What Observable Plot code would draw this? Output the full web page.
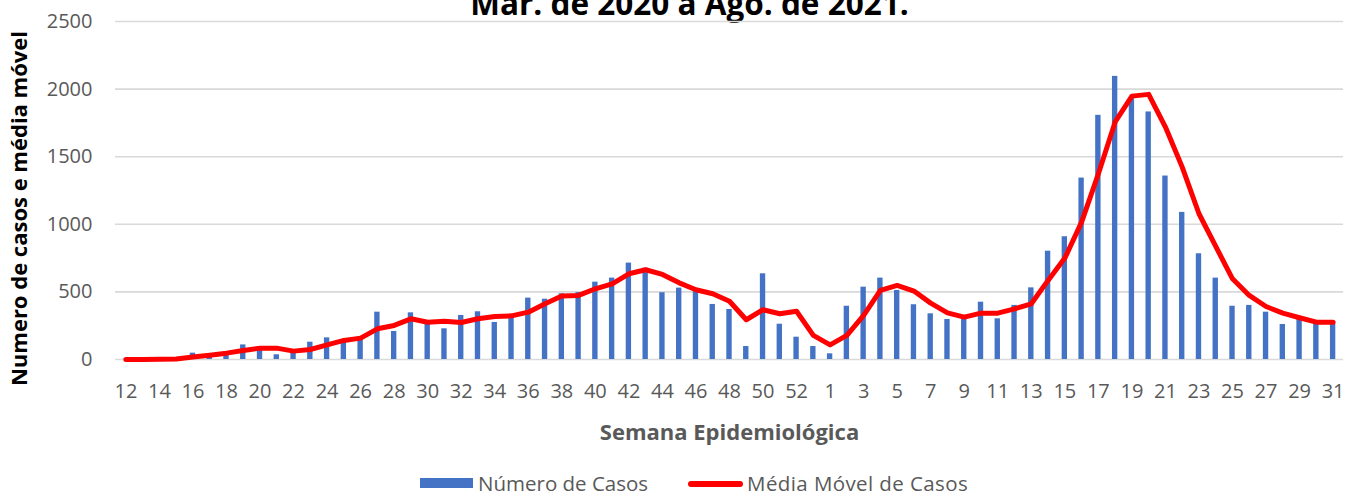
<!DOCTYPE html>
<html>
<head>
<meta charset="utf-8">
<script src="https://cdn.jsdelivr.net/npm/d3@7"></script>
<script src="https://cdn.jsdelivr.net/npm/@observablehq/plot@0.6"></script>
<style>
  html, body { margin: 0; padding: 0; background: #fff; }
  body { width: 1347px; height: 494px; overflow: hidden; position: relative; font-family: "Open Sans", sans-serif; }
  #title { position: absolute; top: -13px; left: 16px; width: 1347px; text-align: center; font-weight: bold; font-size: 31.5px; line-height: 32px; color: #000; white-space: nowrap; }
  #chart { position: absolute; top: 0; left: 0; }
  #chart svg { font-family: "Open Sans", sans-serif; overflow: visible; }
  g[aria-label="x-axis label"] text { font-weight: bold; font-size: 22px; fill: #595959; }
  #legend { position: absolute; top: 473px; left: 420px; height: 21px; line-height: 21px; display: flex; align-items: center; font-size: 20.5px; color: #595959; white-space: nowrap; }
  .sw-bar { width: 53px; height: 10px; background: #4472C4; margin-right: 5px; margin-top: -1px; }
  .sw-line { width: 55px; height: 6px; background: #ff0000; border-radius: 3px; margin-left: 40px; margin-right: 4px; }
  .lg2 { letter-spacing: 0.4px; }
</style>
</head>
<body>
<div id="title">Mar. de 2020 a Ago. de 2021.</div>
<div id="chart"></div>
<div id="legend"><div class="sw-bar"></div><span>Número de Casos</span><div class="sw-line"></div><span class="lg2">Média Móvel de Casos</span></div>
<script>
// Epidemiological weeks: 12–53 of 2020, then 1–31 of 2021
const weekLabels = [
  "12","13","14","15","16","17","18","19","20","21","22","23","24","25","26","27","28","29","30","31",
  "32","33","34","35","36","37","38","39","40","41","42","43","44","45","46","47","48","49","50","51",
  "52","53",
  "1","2","3","4","5","6","7","8","9","10","11","12","13","14","15","16","17","18","19","20",
  "21","22","23","24","25","26","27","28","29","30","31"
];
const weekYears = [
  2020,2020,2020,2020,2020,2020,2020,2020,2020,2020,2020,2020,2020,2020,2020,2020,2020,2020,2020,2020,
  2020,2020,2020,2020,2020,2020,2020,2020,2020,2020,2020,2020,2020,2020,2020,2020,2020,2020,2020,2020,
  2020,2020,
  2021,2021,2021,2021,2021,2021,2021,2021,2021,2021,2021,2021,2021,2021,2021,2021,2021,2021,2021,2021,
  2021,2021,2021,2021,2021,2021,2021,2021,2021,2021,2021
];
// Número de Casos (bars)
const cases = [
  2,3,5,10,47,40,50,108,95,35,60,128,160,140,170,350,207,345,280,227,
  326,353,274,320,454,446,486,495,572,602,713,675,494,528,520,407,370,96,634,261,
  165,96,
  42,394,535,602,511,405,338,296,305,424,301,400,530,801,908,1342,1806,2094,1929,1831,
  1357,1088,782,602,394,400,350,259,305,265,260
];
// Média Móvel de Casos (line)
const movingAvg = [
  0,0,1,4,18,32,47,67,84,84,62,74,108,141,158,227,252,301,276,283,
  274,301,318,323,350,412,469,474,523,560,634,664,629,567,516,486,431,294,368,338,
  357,178,
  108,178,326,511,548,506,417,345,313,343,343,375,412,585,750,1016,1374,1757,1948,1961,
  1719,1423,1078,836,597,474,392,343,309,276,276
];
const yTicks = [0, 500, 1000, 1500, 2000, 2500];
const yTitle = ["Numero de casos e média móvel"];

const keys = weekLabels.map((w, i) => `${weekYears[i]}-${w}`);
const data = keys.map((k, i) => ({key: k, cases: cases[i], avg: movingAvg[i]}));
const xTicks = keys.filter((k, i) => i % 2 === 0);

const chart = Plot.plot({
  width: 1347,
  height: 460,
  marginLeft: 117,
  marginRight: 6,
  marginTop: 21,
  marginBottom: 101,
  style: {background: "transparent", fontFamily: "Open Sans, sans-serif"},
  x: {type: "band", domain: keys, paddingInner: 0.68, paddingOuter: 0.34, align: 0.5},
  y: {domain: [0, 2500]},
  marks: [
    Plot.gridY(yTicks, {stroke: "#d9d9d9", strokeOpacity: 1, strokeWidth: 1.6, insetLeft: -2, insetRight: -2}),
    Plot.axisY(yTicks, {tickSize: 0, tickPadding: 25, fontSize: 20, fill: "#595959",
      tickFormat: d => String(d), label: null}),
    Plot.text(yTitle, {frameAnchor: "left", dx: -106, dy: 18, rotate: -90, lineAnchor: "top", textAnchor: "middle",
      fontWeight: "bold", fontSize: 22, fill: "#000"}),
    Plot.axisX(xTicks, {tickSize: 0, tickPadding: 24, fontSize: 20, fill: "#595959",
      tickFormat: k => k.split("-")[1],
      label: "Semana Epidemiológica", labelAnchor: "center", labelOffset: 80, labelArrow: "none"}),
    Plot.barY(data, {x: "key", y: "cases", fill: "#4472C4"}),
    Plot.line(data, {x: "key", y: "avg", stroke: "#ff0000", strokeWidth: 5, strokeLinejoin: "round", strokeLinecap: "round"})
  ]
});
document.getElementById("chart").appendChild(chart);
</script>
</body>
</html>
